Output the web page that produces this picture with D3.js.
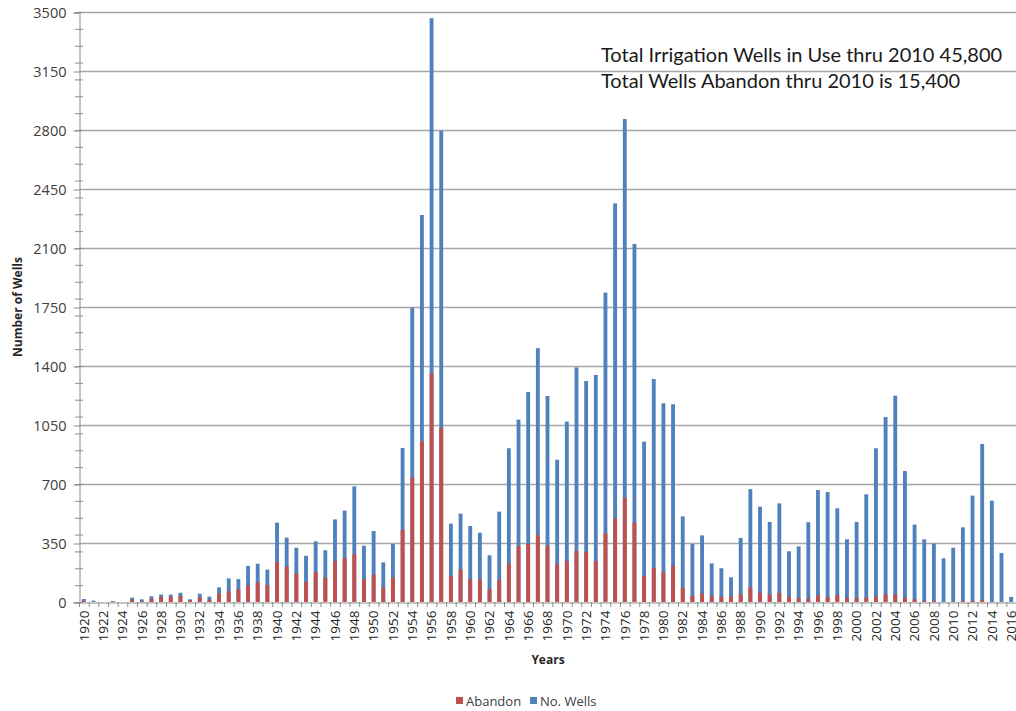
<!DOCTYPE html>
<html>
<head>
<meta charset="utf-8">
<script src="https://cdn.jsdelivr.net/npm/d3@7"></script>
<style>
  body { margin: 0; background: #fff; }
  svg { display: block; font-family: "Open Sans", sans-serif; }
</style>
</head>
<body>
<div id="chart"></div>
<script>
// years 1920..2016
const years = d3.range(1920, 2017);

// No. Wells per year (blue)
const wells = [
  18, 8, 0, 6, 0, 26, 16, 34, 44, 44,
  55, 16, 49, 32, 87, 140, 136, 214, 227, 192,
  471, 382, 322, 274, 360, 307, 490, 542, 686, 334,
  421, 235, 344, 914, 1746, 2296, 3463, 2796, 465, 524,
  451, 411, 277, 536, 912, 1082, 1246, 1506, 1222, 844,
  1070, 1392, 1311, 1347, 1835, 2365, 2865, 2124, 951, 1323,
  1179, 1173, 508, 344, 395, 229, 200, 146, 380, 670,
  565, 475, 585, 301, 330, 473, 664, 653, 556, 372,
  475, 639, 912, 1097, 1224, 777, 459, 372, 346, 259,
  322, 443, 631, 937, 601, 291, 30
];

// Abandon per year (red)
const abandon = [
  5, 0, 0, 0, 0, 14, 4, 18, 30, 30,
  36, 10, 28, 14, 49, 63, 75, 97, 119, 101,
  237, 210, 170, 119, 178, 144, 243, 259, 283, 136,
  162, 87, 144, 427, 738, 953, 1357, 1034, 154, 190,
  136, 136, 77, 130, 227, 332, 344, 397, 334, 223,
  243, 302, 297, 243, 407, 496, 619, 471, 154, 202,
  180, 215, 85, 38, 51, 34, 30, 34, 47, 87,
  55, 44, 55, 32, 24, 18, 42, 30, 40, 24,
  24, 24, 32, 45, 45, 26, 16, 8, 8, 0,
  0, 6, 6, 10, 0, 0, 0
];

const yTicks = [0, 350, 700, 1050, 1400, 1750, 2100, 2450, 2800, 3150, 3500];
const seriesNames = ["Abandon", "No. Wells"];
const notes = [
  "Total Irrigation Wells in Use thru 2010 45,800",
  "Total Wells Abandon thru 2010 is 15,400"
];

const width = 1016, height = 711;
const margin = {top: 12, right: 0, bottom: 109, left: 79};
const blue = "#4f81bd", red = "#c0504d";

const svg = d3.select("#chart").append("svg")
    .attr("width", width)
    .attr("height", height);

const x = d3.scaleBand()
    .domain(years)
    .range([margin.left, width - margin.right])
    .paddingInner(0.6)
    .paddingOuter(0.3);

const y = d3.scaleLinear()
    .domain([0, 3500])
    .range([height - margin.bottom, margin.top]);

// gridlines
svg.append("g")
    .selectAll("line")
    .data(yTicks.slice(1))
    .enter().append("line")
        .attr("x1", margin.left)
        .attr("x2", width)
        .attr("y1", d => y(d) + 0.5)
        .attr("y2", d => y(d) + 0.5)
        .style("stroke", "#a6a6a6")
        .style("stroke-width", 1.3);

// minor ticks every 100
svg.append("g")
    .selectAll("line")
    .data(d3.range(0, 3501, 100))
    .enter().append("line")
        .attr("x1", margin.left - 4)
        .attr("x2", margin.left + 4)
        .attr("y1", d => y(d) + 0.5)
        .attr("y2", d => y(d) + 0.5)
        .style("stroke", "#8c8c8c");

// y axis
const yAxis = svg.append("g")
    .attr("class", "y axis")
    .attr("transform", `translate(${margin.left + 0.5}, 0.5)`)
    .call(d3.axisLeft(y).tickValues(yTicks).tickFormat(d3.format("d")).tickSize(6).tickPadding(7));
yAxis.select(".domain").style("stroke", "#8c8c8c");
yAxis.selectAll(".tick line").style("stroke", "#8c8c8c");
yAxis.selectAll("text")
    .style("font-size", "14.5px")
    .style("fill", "#404040")
    .style("font-family", "'Open Sans', sans-serif");

// bars: blue behind, red in front
svg.append("g")
    .selectAll("rect")
    .data(years)
    .enter().append("rect")
        .attr("x", d => x(d))
        .attr("width", x.bandwidth())
        .attr("y", (d, i) => y(wells[i]))
        .attr("height", (d, i) => y(0) - y(wells[i]))
        .style("fill", blue);

svg.append("g")
    .selectAll("rect")
    .data(years)
    .enter().append("rect")
        .attr("x", d => x(d))
        .attr("width", x.bandwidth())
        .attr("y", (d, i) => y(abandon[i]))
        .attr("height", (d, i) => y(0) - y(abandon[i]))
        .style("fill", red);

// x axis
const xAxis = svg.append("g")
    .attr("class", "x axis")
    .attr("transform", `translate(0, ${y(0) + 0.5})`)
    .call(d3.axisBottom(x)
        .tickValues(years.filter(d => d % 2 === 0))
        .tickSize(0)
        .tickPadding(0));
xAxis.select(".domain").style("stroke", "#8c8c8c");
xAxis.selectAll("text")
    .attr("transform", "rotate(-90)")
    .attr("x", -8)
    .attr("y", 0)
    .attr("dy", "0.35em")
    .style("text-anchor", "end")
    .style("font-size", "13.5px")
    .style("fill", "#262626")
    .style("font-family", "'Open Sans', sans-serif");

// small ticks between categories
svg.append("g")
    .selectAll("line")
    .data(years.concat([2017]))
    .enter().append("line")
        .attr("x1", d => x.step() * (d - 1920) + margin.left + 0.5)
        .attr("x2", d => x.step() * (d - 1920) + margin.left + 0.5)
        .attr("y1", y(0))
        .attr("y2", y(0) + 5)
        .style("stroke", "#8c8c8c");

// axis titles
svg.append("text")
    .attr("transform", `translate(22, ${(margin.top + y(0)) / 2}) rotate(-90)`)
    .style("text-anchor", "middle")
    .style("font-size", "12px")
    .style("font-weight", "bold")
    .style("fill", "#262626")
    .text("Number of Wells");

svg.append("text")
    .attr("x", 548)
    .attr("y", 664)
    .style("text-anchor", "middle")
    .style("font-size", "12px")
    .style("font-weight", "bold")
    .style("fill", "#262626")
    .text("Years");

// legend
const legend = svg.append("g").attr("transform", "translate(456, 701)");
const legendX = [0, 74];
seriesNames.forEach((name, i) => {
    const g = legend.append("g").attr("transform", `translate(${legendX[i]}, 0)`);
    g.append("rect")
        .attr("x", 0).attr("y", -4)
        .attr("width", 7).attr("height", 7)
        .style("fill", i === 0 ? red : blue);
    g.append("text")
        .attr("x", 10).attr("y", 0)
        .attr("dy", "0.35em")
        .style("font-size", "13px")
        .style("fill", "#404040")
        .text(name);
});

// annotation
svg.append("g")
    .selectAll("text")
    .data(notes)
    .enter().append("text")
        .attr("x", 601)
        .attr("y", (d, i) => 62 + i * 26)
        .style("font-family", "Lato, sans-serif")
        .style("font-size", "20px")
        .style("fill", "#1a1a1a")
        .text(d => d);
</script>
</body>
</html>
